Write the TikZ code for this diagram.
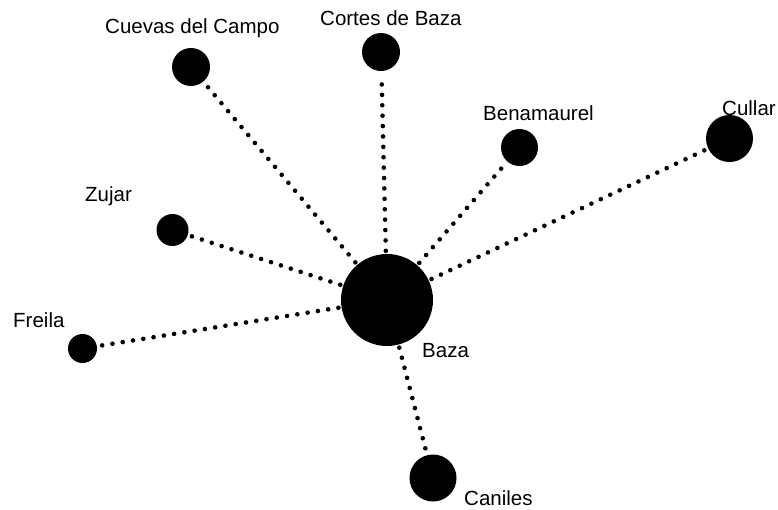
\documentclass[tikz,border=0pt]{standalone}
\usepackage{fontspec}
\setmainfont{Liberation Sans}
\begin{document}
\begin{tikzpicture}[x=1pt,y=-1pt,
  town/.style={circle,fill=black,inner sep=0pt,minimum size=#1},
  lbl/.style={anchor=base west,inner sep=0pt,font=\fontsize{20.5}{24}\selectfont},
  link/.style={line width=4.6pt,line cap=round,dash pattern=on 0pt off 10.4pt,shorten <=3pt,shorten >=3pt}]
\useasboundingbox (0,0) rectangle (778,509);
\node[town=92pt] (baza) at (387,300) {};
\node[town=38pt] (cuevas) at (191,67) {};
\node[town=38pt] (cortes) at (381,52) {};
\node[town=37pt] (bena) at (519.5,147.5) {};
\node[town=47pt] (cullar) at (729.5,138.5) {};
\node[town=32pt] (zujar) at (172.5,230) {};
\node[town=29pt] (freila) at (82.5,348.5) {};
\node[town=47pt] (caniles) at (433,478) {};
\node[lbl] (lcuevas) at (105,33) {Cuevas del Campo};
\node[lbl] (lcortes) at (320,25) {Cortes de Baza};
\node[lbl] (lbena) at (483,120) {Benamaurel};
\node[lbl] (lcullar) at (722,115) {Cullar};
\node[lbl] (lzujar) at (85,201) {Zujar};
\node[lbl] (lfreila) at (13,327) {Freila};
\node[lbl] (lbaza) at (422,357) {Baza};
\node[lbl] (lcaniles) at (464,505) {Caniles};
\foreach \t in {cuevas,cortes,bena,cullar,zujar,freila,caniles}
  \draw[link] (baza) -- (\t);
\end{tikzpicture}
\end{document}
